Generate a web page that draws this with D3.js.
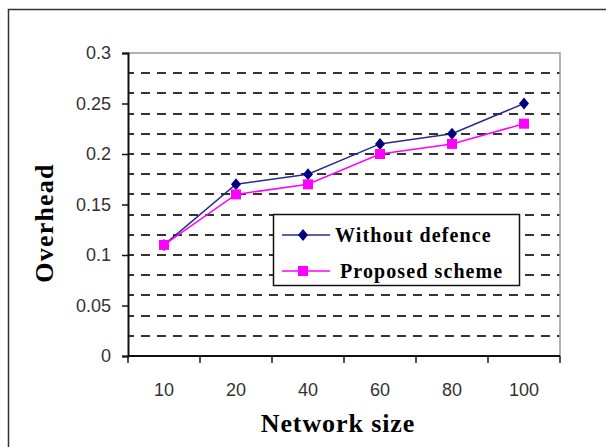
<!DOCTYPE html>
<html>
<head>
<meta charset="utf-8">
<script src="https://cdn.jsdelivr.net/npm/d3@7"></script>
<style>
  body { margin: 0; background: #fff; }
</style>
</head>
<body>
<div id="chart"></div>
<script>
// chart data
const sizes = ["10", "20", "40", "60", "80", "100"];
const withoutDefence = [0.11, 0.17, 0.18, 0.21, 0.22, 0.25];
const proposedScheme = [0.11, 0.16, 0.17, 0.20, 0.21, 0.23];
const yTicks = [0, 0.05, 0.1, 0.15, 0.2, 0.25, 0.3];
const gridValues = [0.02, 0.04, 0.06, 0.08, 0.1, 0.12, 0.14, 0.16, 0.18, 0.2, 0.22, 0.24, 0.26, 0.28];

const width = 606, height = 447;
const margin = {top: 53, right: 46, bottom: 91, left: 128};
const serif = "Liberation Serif, Times New Roman, serif";
const sans = "Liberation Sans, Arial, sans-serif";

const svg = d3.select("#chart").append("svg")
    .attr("width", width)
    .attr("height", height);

// outer frame (runs off the right and bottom edges)
svg.append("rect")
    .attr("x", 8.5).attr("y", 9.5)
    .attr("width", 620).attr("height", 460)
    .attr("fill", "none")
    .attr("stroke", "#333")
    .attr("stroke-width", 1.5);

const x = d3.scaleBand()
    .domain(sizes)
    .range([margin.left, width - margin.right]);

const y = d3.scaleLinear()
    .domain([0, 0.3])
    .range([height - margin.bottom, margin.top]);

// dashed gridlines
svg.append("g").selectAll("line")
    .data(gridValues)
    .enter().append("line")
    .attr("x1", margin.left).attr("x2", width - margin.right)
    .attr("y1", d => Math.round(y(d)))
    .attr("y2", d => Math.round(y(d)))
    .attr("stroke", "#333")
    .attr("stroke-width", 2)
    .attr("stroke-dasharray", "9,7")
    .attr("stroke-dashoffset", 3);

// top and right plot border
svg.append("path")
    .attr("d", `M${margin.left},${y(0.3)}H${width - margin.right}V${y(0)}`)
    .attr("fill", "none")
    .attr("stroke", "#999")
    .attr("stroke-width", 1.5);

// y axis
const yAxis = d3.axisLeft(y)
    .tickValues(yTicks)
    .tickFormat(d => String(+d.toFixed(2)))
    .tickSize(6)
    .tickPadding(11);

svg.append("g")
    .attr("transform", `translate(${margin.left},0)`)
    .call(yAxis)
    .call(g => g.select(".domain").attr("stroke", "#111").attr("stroke-width", 2))
    .call(g => g.selectAll(".tick line").attr("stroke", "#111").attr("stroke-width", 1.5))
    .call(g => g.selectAll(".tick text")
        .attr("font-family", sans).attr("font-size", 18).attr("fill", "#333"));

// x axis, ticks on band edges
const xEdges = sizes.map(d => x(d)).concat([x(sizes[sizes.length - 1]) + x.bandwidth()]);
const xg = svg.append("g");
xg.append("line")
    .attr("x1", margin.left).attr("x2", width - margin.right)
    .attr("y1", y(0)).attr("y2", y(0))
    .attr("stroke", "#111").attr("stroke-width", 2);
xg.selectAll(".xtick")
    .data(xEdges)
    .enter().append("line")
    .attr("x1", d => d).attr("x2", d => d)
    .attr("y1", y(0)).attr("y2", y(0) + 7)
    .attr("stroke", "#111").attr("stroke-width", 1.5);
xg.selectAll(".xlabel")
    .data(sizes)
    .enter().append("text")
    .attr("x", d => x(d) + x.bandwidth() / 2)
    .attr("y", y(0) + 40)
    .attr("text-anchor", "middle")
    .attr("font-family", sans)
    .attr("font-size", 18)
    .attr("fill", "#333")
    .text(d => d);

// axis titles
svg.append("text")
    .attr("x", 338).attr("y", 432)
    .attr("text-anchor", "middle")
    .attr("font-family", serif)
    .attr("font-weight", "bold")
    .attr("font-size", 26)
    .attr("letter-spacing", 0.9)
    .text("Network size");

svg.append("text")
    .attr("transform", "translate(53,223) rotate(-90)")
    .attr("text-anchor", "middle")
    .attr("font-family", serif)
    .attr("font-weight", "bold")
    .attr("font-size", 26)
    .attr("letter-spacing", 1.2)
    .text("Overhead");

// markers
const diamond = "M0,-6L5,0L0,6L-5,0Z";
const square = "M-5,-5H5V5H-5Z";

const series = [
    {name: "Without defence", values: withoutDefence, color: "#000080", line: "#2a2a8c", marker: diamond},
    {name: "Proposed scheme", values: proposedScheme, color: "#ff00ff", line: "#ff00ff", marker: square}
];

const line = d3.line()
    .x((d, i) => x(sizes[i]) + x.bandwidth() / 2)
    .y(d => y(d));

series.forEach(s => {
    svg.append("path")
        .datum(s.values)
        .attr("fill", "none")
        .attr("stroke", s.line)
        .attr("stroke-width", 1.5)
        .attr("d", line);

    svg.append("g").selectAll("path")
        .data(s.values)
        .enter().append("path")
        .attr("transform", (d, i) => `translate(${x(sizes[i]) + x.bandwidth() / 2},${y(d)})`)
        .attr("d", s.marker)
        .attr("fill", s.color);
});

// legend
const legend = svg.append("g").attr("transform", "translate(273,214)");
legend.append("rect")
    .attr("x", 0.5).attr("y", 0.5)
    .attr("width", 246).attr("height", 71)
    .attr("fill", "#fff")
    .attr("stroke", "#111")
    .attr("stroke-width", 1.5);

series.forEach((s, i) => {
    const row = legend.append("g").attr("transform", `translate(0,${21 + i * 36})`);
    row.append("line")
        .attr("x1", 9).attr("x2", 57)
        .attr("stroke", s.line).attr("stroke-width", 1.5);
    row.append("path")
        .attr("transform", "translate(30,0)")
        .attr("d", s.marker)
        .attr("fill", s.color);
    row.append("text")
        .attr("x", i === 0 ? 62 : 67)
        .attr("y", 7)
        .attr("font-family", serif)
        .attr("font-weight", "bold")
        .attr("font-size", 20)
        .attr("letter-spacing", 1.1)
        .text(s.name);
});
</script>
</body>
</html>
